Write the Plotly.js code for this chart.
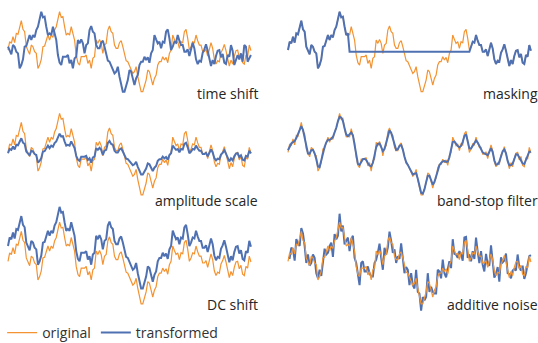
<!DOCTYPE html>
<html><head><meta charset="utf-8">
<script src="https://cdn.plot.ly/plotly-3.0.1.min.js"></script>
<style>html,body{margin:0;padding:0;background:#fff;} #chart{width:538px;height:343px;}</style>
</head><body><div id="chart"></div>
<script>
// original signal (arbitrary units, 0 = mask level)
const origPart1 = [1,6,5,9,5.4,11,10.4,15,18.6,13.4,
  12,3,0,-1.6,4,3,0,-1,-10,-8,
  -4.6,3,3.4,7,10,7,10,8.6,13,15,
  19,24,20.6,21,15,10,11,10,15,11,
  7,-2,-6.6,-8,-3,-3,-3,-2,-7,-5];
const origPart2 = [-10,-4,-3,7,5,7.4,5,-1,4,5,
  13,15.4,12,11,4,2,2,5.4,6.6,3,
  -2,-5.4,-6,-8,-10,-13,-12,-9,-15,-19,
  -24,-24,-21,-17,-11,-12,-16,-20,-16,-14,
  -8,-6,-6,-3,-5,-3.4,-6.6,-1,1,10];
const origPart3 = [7.4,5,6,2,6,5.4,12,13.4,8,1,
  3,6,5.4,10,6.6,4,4,0,0,1.4,
  -2.6,1.4,5.4,2,-4.6,-7.4,-5.4,-6,-0.6,1.4,
  4.4,0.6,-4,-8.6,-5,-7.4,-2.6,0.6,1,-3.4,
  -1.4,-6.6,-7.4,-2,-3,4,0.6];
// continuation of the signal seen only in the time-shifted copy
const shiftTail = [-8,-5,-2,-4.6,-1,-6,4,3,-6,-4,-2];
// estimated additive noise
const noise = [2,-3,4,-1,-4,3,1,-5,2,4,
  -2,-3,5,0,-4,2,3,-5,1,4,
  -3,-1,5,-2,-4,3,2,-5,4,-1,
  -3,5,-2,1,-4,3,4,-3,-1,5,
  -4,2,0,-5,3,4,-2,-3,5,-1,
  2,-4,3,-5,1,4,-2,-3,5,0,
  -4,3,1,-5,4,-2,2,-3,5,-1,
  -4,3,2,-5,4,0,-3,5,-2,1,
  -4,4,-1,-3,5,-5,2,3,-2,-4,
  4,1,-3,5,-1,-5,3,2,-4,4,
  -2,0,-3,5,-1,-4,3,2,-5,4,
  -2,1,-3,5,0,-4,3,-1,-5,4,
  2,-3,5,-2,-4,1,3,-5,4,-1,
  -3,5,-2,2,-4,3,-1,-5,4,1,
  -3,5,-2,-4,3,0,4];
const panelLabels = ['time shift','masking','amplitude scale','band-stop filter','DC shift','additive noise'];
const seriesNames = ['original','transformed'];
const shiftSteps = 11, maskStart = 37, maskEnd = 109, maskLevel = 0, ampFactor = 0.5, dcOffset = 9;

const original = origPart1.concat(origPart2, origPart3);
const extended = original.concat(shiftTail);
const t = original.map((_, i) => i);
const n = original.length;

const transformed = {
  'time shift': t.map(i => extended[i + shiftSteps]),
  'masking': original.map((v, i) => (i >= maskStart && i <= maskEnd) ? maskLevel : v),
  'amplitude scale': original.map(v => v * ampFactor),
  'band-stop filter': original.map((v, i) => 0.25*original[Math.max(i-1,0)] + 0.5*v + 0.25*original[Math.min(i+1,n-1)]),
  'DC shift': original.map(v => v + dcOffset),
  'additive noise': original.map((v, i) => v + noise[i])
};

const ORANGE = '#f39331', BLUE = '#4f71b2';
const W = 538, H = 343;
// pixel bands of each row / column
const rowBands = [[0,102],[102,204],[204,312]];
const rowZero = [51.7, 154.1, 263];      // pixel y of value 0
const rowScale = [1.667, 1.7, 1.7];      // px per unit
const colBands = [[0,269],[270,538]];
const colStart = [8, 288];
const xStep = 1.664;

const data = [];
const layout = {
  width: W, height: H, margin: {l:0,r:0,t:0,b:0, autoexpand:false},
  paper_bgcolor: '#fff', plot_bgcolor: 'rgba(0,0,0,0)',
  showlegend: true,
  legend: {orientation:'h', x:0.004, xanchor:'left', y:1-333/H, yanchor:'middle',
           font:{family:'Open Sans', size:14, color:'#333'}, itemwidth:30,
           bgcolor:'rgba(0,0,0,0)', itemclick:false, itemdoubleclick:false},
  annotations: []
};

panelLabels.forEach((label, k) => {
  const row = Math.floor(k/2), col = k % 2;
  const id = k === 0 ? '' : String(k+1);
  const [A, B] = rowBands[row];
  const [L, R] = colBands[col];
  layout['xaxis'+id] = {domain:[L/W, R/W], range:[(L-colStart[col])/xStep, (R-colStart[col])/xStep],
    visible:false, fixedrange:true, anchor:'y'+id};
  layout['yaxis'+id] = {domain:[1-B/H, 1-A/H], range:[(rowZero[row]-B)/rowScale[row], (rowZero[row]-A)/rowScale[row]],
    visible:false, fixedrange:true, anchor:'x'+id};
  const orig = {x:t, y:original, type:'scatter', mode:'lines', name:seriesNames[0],
    line:{color:ORANGE, width:1.2}, xaxis:'x'+id, yaxis:'y'+id, showlegend:k===0, hoverinfo:'skip'};
  const tr = {x:t, y:transformed[label], type:'scatter', mode:'lines', name:seriesNames[1],
    line:{color:BLUE, width:2}, xaxis:'x'+id, yaxis:'y'+id, showlegend:k===0, hoverinfo:'skip'};
  if (label === 'additive noise') { data.push(tr, orig); } else { data.push(orig, tr); }
  const labelY = [93, 200, 304.5][row];
  layout.annotations.push({text:label, xref:'paper', yref:'paper',
    x:(col===0 ? 260 : 540)/W, y:1-labelY/H, xanchor:'right', yanchor:'middle', showarrow:false,
    font:{family:'Open Sans', size:14, color:'#262626'}});
});

Plotly.newPlot('chart', data, layout, {staticPlot:true, displayModeBar:false});
</script>
</body></html>
